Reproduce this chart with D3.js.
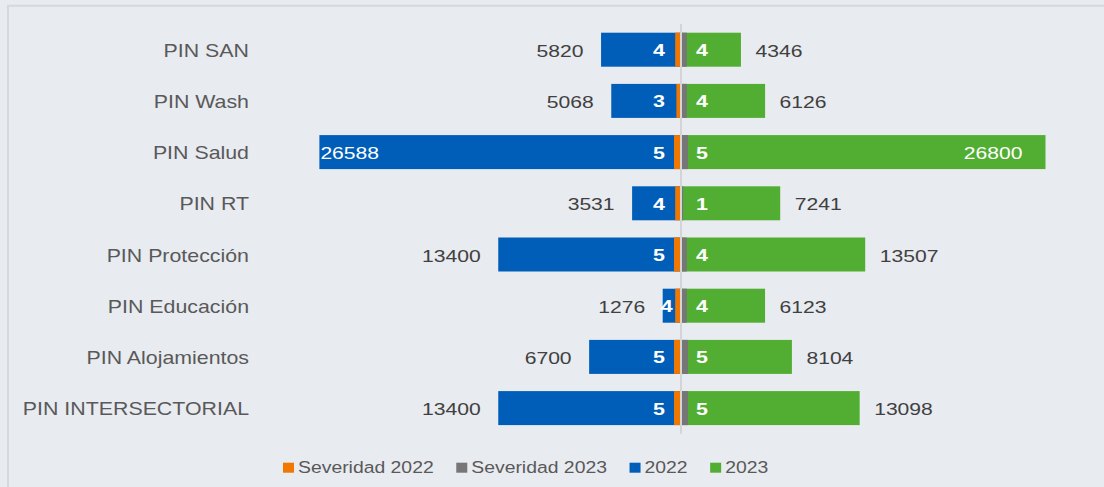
<!DOCTYPE html>
<html><head><meta charset="utf-8">
<script src="https://cdn.jsdelivr.net/npm/d3@7"></script>
<style>html,body{margin:0;padding:0;background:#e8ebf0;}svg{display:block;}</style>
</head><body>
<script>
const categories = ["PIN SAN","PIN Wash","PIN Salud","PIN RT","PIN Protección","PIN Educación","PIN Alojamientos","PIN INTERSECTORIAL"];
const v2022 = [5820,5068,26588,3531,13400,1276,6700,13400];
const v2023 = [4346,6126,26800,7241,13507,6123,8104,13098];
const sev2022 = [4,3,5,4,5,4,5,5];
const sev2023 = [4,4,5,1,4,4,5,5];
const legendLabels = ["Severidad 2022","Severidad 2023","2022","2023"];

const W=1104,H=487;
const C = {blue:"#005eb8", green:"#52ae32", orange:"#f07800", gray:"#767676", bg:"#e8ebf0", text:"#404040", label:"#595959"};
const FONT = "'Liberation Sans', Arial, sans-serif";

const svg = d3.select("body").append("svg").attr("width",W).attr("height",H);
svg.append("rect").attr("width",W).attr("height",H).attr("fill",C.bg);
svg.append("path").attr("d",`M8,${H} V5.8 H${W}`).attr("fill","none").attr("stroke","#d6d8dc").attr("stroke-width",2);

const y = d3.scaleBand().domain(categories).range([24.1,433.7]).paddingInner(0.336).paddingOuter(0.168);
const x0L = 680, x0R = 682;
const xL = d3.scaleLinear().domain([0,30000]).range([x0L, x0L-406.9]);
const xR = d3.scaleLinear().domain([0,30000]).range([x0R, x0R+406.9]);
const sL = d3.scaleLinear().domain([0,5]).range([0,6]);

function txt(g,x,yy,str,o){
  return g.append("text").attr("transform",`translate(${x},${yy}) scale(${o.sx},1)`)
    .attr("text-anchor",o.anchor||"start").attr("font-family",FONT).attr("font-size",o.fs)
    .attr("font-weight",o.weight||"normal").attr("fill",o.fill).text(str);
}
function width(str,o){
  const t = svg.append("text").attr("font-family",FONT).attr("font-size",o.fs).attr("font-weight",o.weight||"normal").text(str);
  const w = t.node().getComputedTextLength()*o.sx; t.remove(); return w;
}

// center line
svg.append("line").attr("x1",681).attr("x2",681).attr("y1",y.range()[0]).attr("y2",y.range()[1])
  .attr("stroke","#d3d4d6").attr("stroke-width",2);

const valO = {fs:16, sx:1.32, fill:C.text};
const sevO = {fs:16.5, sx:1.3, weight:"bold", fill:"#fff"};
const catO = {fs:17.5, sx:1.22, fill:C.label, anchor:"end"};

const g = svg.append("g");
categories.forEach((c,i)=>{
  const top = y(c), bh = y.bandwidth(), cy = top + bh/2;
  const left = xL(v2022[i]), right = xR(v2023[i]);
  g.append("rect").attr("x",left).attr("y",top).attr("width",x0L-left).attr("height",bh).attr("fill",C.blue);
  g.append("rect").attr("x",x0R).attr("y",top).attr("width",right-x0R).attr("height",bh).attr("fill",C.green);
  g.append("rect").attr("x",x0L-sL(sev2022[i])).attr("y",top).attr("width",sL(sev2022[i])).attr("height",bh).attr("fill",C.orange);
  g.append("rect").attr("x",x0R).attr("y",top).attr("width",sL(sev2023[i])).attr("height",bh).attr("fill",C.gray);

  txt(g,249,cy+7,c,catO);

  const sEnd = Math.max(x0L-15, left+10);
  txt(g,sEnd,cy+6.5,String(sev2022[i]),Object.assign({},sevO,{anchor:"end"}));
  txt(g,x0R+14,cy+6.5,String(sev2023[i]),Object.assign({},sevO,{anchor:"start"}));

  const wl = width(String(v2022[i]),valO);
  if (left-17.5-wl < 262) txt(g,left+1,cy+7,String(v2022[i]),Object.assign({},valO,{fill:"#fff",anchor:"start"}));
  else txt(g,left-17.5,cy+7,String(v2022[i]),Object.assign({},valO,{anchor:"end"}));
  const wr = width(String(v2023[i]),valO);
  if (right+14.5+wr > W-10) txt(g,right-23,cy+7,String(v2023[i]),Object.assign({},valO,{fill:"#fff",anchor:"end"}));
  else txt(g,right+14.5,cy+7,String(v2023[i]),Object.assign({},valO,{anchor:"start"}));
});

// legend
const legO = {fs:17, sx:1.14, fill:C.label};
const legColors = [C.orange,C.gray,C.blue,C.green];
let lx = 283;
const lg = svg.append("g");
legendLabels.forEach((l,i)=>{
  lg.append("rect").attr("x",lx).attr("y",462.7).attr("width",11).attr("height",10).attr("fill",legColors[i]);
  txt(lg,lx+15,473.3,l,legO);
  lx += 15 + width(l,legO) + 22.5;
});
</script>
</body></html>
